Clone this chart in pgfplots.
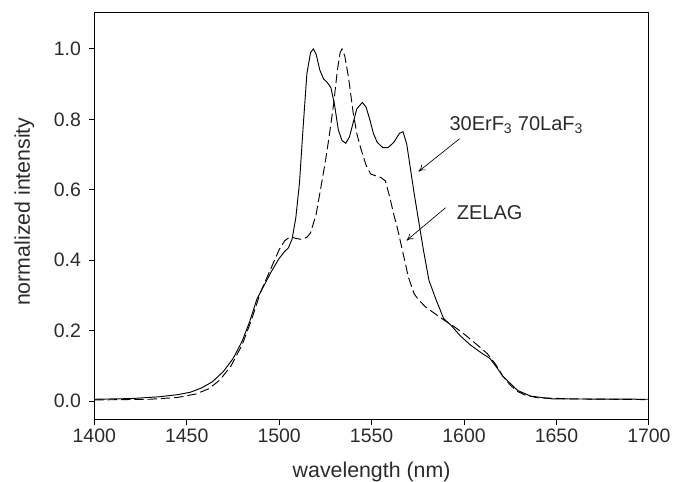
\documentclass[border=0pt]{standalone}
\usepackage{fontspec}
\setmainfont{Liberation Sans}
\usepackage{pgfplots}
\pgfplotsset{compat=1.18}
\usetikzlibrary{arrows.meta}

\definecolor{txt}{HTML}{2B2B2B}

\begin{document}
\begin{tikzpicture}
\useasboundingbox (0,0) rectangle (507pt,361.5pt);
\begin{axis}[
    at={(70.7pt,47pt)}, anchor=south west,
    scale only axis,
    width=416pt, height=305.5pt,
    xmin=1400, xmax=1700,
    ymin=-0.052, ymax=1.105,
    xtick={1400,1450,...,1700},
    ytick={0,0.2,...,1.0},
    tick pos=left,
    tick align=outside,
    major tick length=4pt,
    axis line style={black, line width=0.7pt},
    tick style={black, line width=0.7pt},
    /pgf/number format/assume math mode=true,
    /pgf/number format/1000 sep={},
    yticklabel style={/pgf/number format/fixed, /pgf/number format/fixed zerofill, /pgf/number format/precision=1, xshift=-2.5pt},
    tick label style={font=\fontsize{14.6}{17}\selectfont, text=txt},
    xlabel={wavelength (nm)},
    ylabel={normalized intensity},
    every axis x label/.style={at={(axis description cs:0.5,0)}, anchor=base, yshift=-43.3pt, font=\fontsize{16}{19}\selectfont, text=txt},
    every axis y label/.style={at={(axis description cs:0,0.5)}, anchor=base, xshift=-48.2pt, yshift=3pt, rotate=90, font=\fontsize{16}{19}\selectfont, text=txt},
]
% 30ErF3 70LaF3 (solid)
\addplot[black, line width=0.7pt] coordinates {
(1400,0.005) (1420,0.007) (1435,0.012) (1445,0.018) (1452,0.025) (1458,0.037)
(1464,0.055) (1470,0.085) (1475,0.12) (1480,0.17) (1484,0.225) (1488,0.29)
(1492,0.33) (1496,0.37) (1500,0.405) (1503,0.425) (1505,0.435) (1507,0.46)
(1509,0.52) (1511,0.62) (1513,0.78) (1515,0.93) (1517,0.99) (1518.5,1.0)
(1520,0.985) (1522,0.94) (1524,0.915) (1526,0.905) (1528,0.89) (1530,0.84)
(1532,0.77) (1534,0.74) (1536,0.732) (1538,0.75) (1540,0.79) (1542,0.83)
(1545,0.848) (1547,0.835) (1549,0.8) (1551,0.76) (1553,0.735) (1556,0.72)
(1559,0.72) (1562,0.735) (1565,0.76) (1567,0.765) (1569,0.73) (1571,0.66)
(1573,0.59) (1575.5,0.51) (1578,0.43) (1581,0.343) (1585,0.286) (1589,0.234)
(1593,0.215) (1598,0.185) (1603.5,0.159) (1609,0.138) (1614,0.121) (1618,0.093)
(1621,0.07) (1625,0.05) (1629,0.03) (1636,0.014) (1648,0.006) (1700,0.005)
};
% ZELAG (dashed)
\addplot[black, line width=0.7pt, dash pattern=on 7pt off 3pt] coordinates {
(1400,0.003) (1430,0.005) (1445,0.01) (1455,0.02) (1462,0.035) (1468,0.06)
(1474,0.1) (1480,0.16) (1485,0.23) (1490,0.31) (1495,0.37) (1500,0.43)
(1503,0.455) (1506,0.467) (1509,0.462) (1512,0.459) (1515,0.465) (1517,0.478)
(1520,0.53) (1522,0.59) (1525,0.68) (1527,0.75) (1529.5,0.845) (1531.5,0.94)
(1533,0.99) (1534,1.0) (1535.5,0.98) (1537.5,0.92) (1540,0.82) (1542,0.76)
(1544,0.72) (1547,0.67) (1549.5,0.645) (1552,0.64) (1555,0.635) (1557.5,0.625)
(1560,0.575) (1562,0.53) (1564,0.49) (1567,0.42) (1570,0.35) (1573,0.305)
(1575,0.29) (1579,0.268) (1588,0.234) (1595,0.21) (1600.8,0.187) (1607,0.16)
(1612.5,0.135) (1617,0.105) (1621,0.071) (1625,0.045) (1629,0.027) (1633,0.017)
(1640,0.009) (1660,0.006) (1700,0.004)
};
\draw[black, line width=0.5pt, -{To[length=5pt,width=5pt]}] (axis cs:1597.6,0.745) -- (axis cs:1575.4,0.652);
\draw[black, line width=0.5pt, -{To[length=5pt,width=5pt]}] (axis cs:1590,0.549) -- (axis cs:1568.9,0.456);
\node[anchor=base west, inner sep=0pt, text=txt, font=\fontsize{15}{18}\selectfont] at (axis cs:1592,0.768) {30ErF\textsubscript{3} 70LaF\textsubscript{3}};
\node[anchor=base west, inner sep=0pt, text=txt, font=\fontsize{15}{18}\selectfont] at (axis cs:1596,0.517) {ZELAG};
\end{axis}
\end{tikzpicture}
\end{document}
